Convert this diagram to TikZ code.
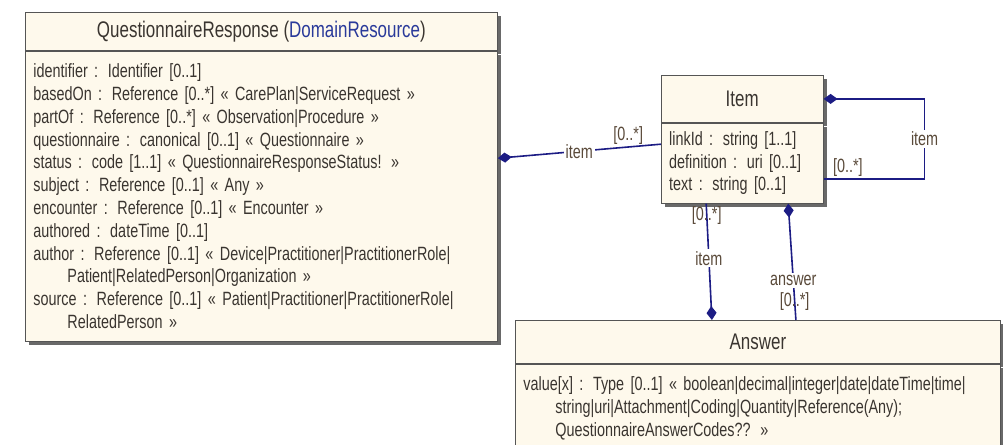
\documentclass[tikz,border=0pt]{standalone}
\usepackage{fontspec}
\setmainfont{Liberation Sans}[FakeStretch=0.75]
\usetikzlibrary{positioning,arrows.meta,shadows}
\definecolor{umlfill}{HTML}{FEF9EC}
\definecolor{umlline}{HTML}{1C1C84}
\definecolor{umltext}{HTML}{3A3530}
\definecolor{umllink}{HTML}{2A3A9A}
\definecolor{umledge}{HTML}{555555}
\definecolor{umllabel}{HTML}{5A4A3A}

\begin{document}
\begin{tikzpicture}[
		every node/.style={
			font=\fontsize{9.6}{11.4}\selectfont,
			text=umltext,
			inner sep=2pt,
		},
		umlshadow/.style={drop shadow={shadow xshift=2pt, shadow yshift=-2pt, fill=black!65, opacity=0.9}},
		hdr/.style={draw=umledge, fill=umlfill, umlshadow, align=center,
			font=\fontsize{11.3}{13}\selectfont},
		body/.style={draw=umledge, fill=umlfill, umlshadow, align=left,
			inner xsep=4pt, inner ysep=3pt},
		assoc/.style={umlline, line width=0.8pt},
		comp/.style={assoc, {Diamond[length=7pt,width=5pt]}-},
		lbl/.style={fill=white, inner sep=1pt, text=umllabel},
		card/.style={inner sep=1pt, text=umllabel},
		]

		\useasboundingbox (0,0) rectangle (501.5pt,-222.5pt);

		% QuestionnaireResponse
		\node (qr) [hdr, anchor=north west, minimum width=236pt, minimum height=19pt] at (12.5pt,-6pt)
			{QuestionnaireResponse ({\color{umllink}DomainResource})};
		\node (qrBody) [body, below=0pt of qr, text width=228pt, minimum height=145pt] {%
			identifier : Identifier [0..1]\\
			basedOn : Reference [0..*] « CarePlan|ServiceRequest »\\
			partOf : Reference [0..*] « Observation|Procedure »\\
			questionnaire : canonical [0..1] « Questionnaire »\\
			status : code [1..1] « QuestionnaireResponseStatus! »\\
			subject : Reference [0..1] « Any »\\
			encounter : Reference [0..1] « Encounter »\\
			authored : dateTime [0..1]\\
			author : Reference [0..1] « Device|Practitioner|PractitionerRole|\\
			\hspace*{17pt}Patient|RelatedPerson|Organization »\\
			source : Reference [0..1] « Patient|Practitioner|PractitionerRole|\\
			\hspace*{17pt}RelatedPerson »};

		% Item
		\node (item) [hdr, below right=31.5pt and 81.5pt of qr.north east, minimum width=81pt, minimum height=23.5pt] {Item};
		\node (itemBody) [body, below=0pt of item, text width=73pt, minimum height=40pt] {%
			linkId : string [1..1]\\
			definition : uri [0..1]\\
			text : string [0..1]};

		% Answer
		\node (ans) [hdr, anchor=north west, minimum width=242.5pt, minimum height=21.5pt] at (257.5pt,-160pt) {Answer};
		\node (ansBody) [body, below=0pt of ans, text width=234.5pt, minimum height=44pt] {%
			value[x] : Type [0..1] « boolean|decimal|integer|date|dateTime|time|\\
			\hspace*{16pt}string|uri|Attachment|Coding|Quantity|Reference(Any);\\
			\hspace*{16pt}QuestionnaireAnswerCodes?? »};

		% links
		\draw[comp] ([yshift=19pt]qrBody.east) -- node[lbl, pos=0.5] {item}
			node[card, pos=0.8, above] {[0..*]} ([yshift=9.5pt]itemBody.west);
		\draw[comp] (item.east) -- ++(50.5pt,0) |- node[lbl, pos=0.25] {item}
			node[card, pos=0.88, above] {[0..*]} ([yshift=-8pt]itemBody.east);
		\draw[comp] ([xshift=-23pt]ans.north) -- node[lbl, pos=0.53] {item}
			node[card, pos=0.9] {[0..*]} ([xshift=-18pt]itemBody.south);
		\draw[comp] ([xshift=23pt]itemBody.south) -- node[lbl, pos=0.66] {answer}
			node[card, pos=0.84] {[0..*]} ([xshift=19pt]ans.north);

	\end{tikzpicture}
\end{document}
